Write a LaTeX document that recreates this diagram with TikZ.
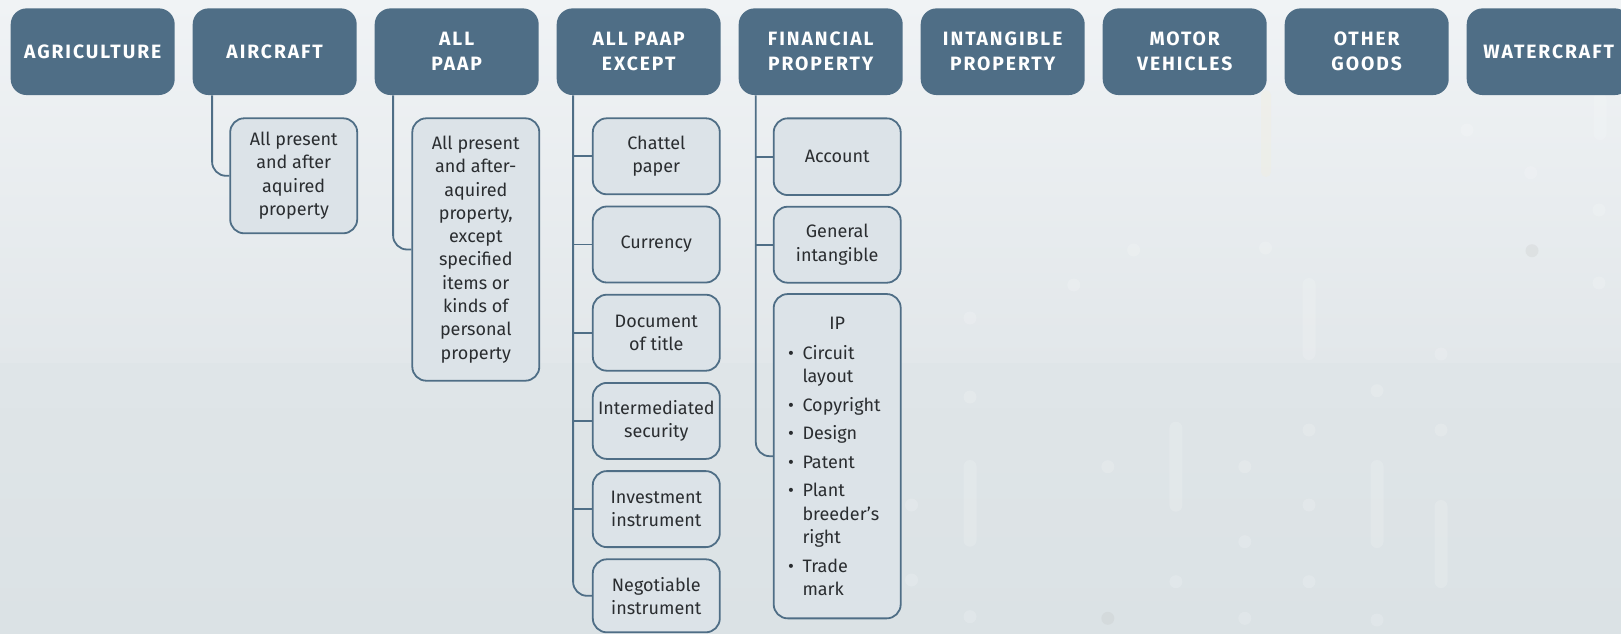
\documentclass[tikz,border=0pt]{standalone}
\usepackage{fontspec}
\setmainfont{Fira Sans}
\definecolor{slate}{HTML}{4F6E86}
\definecolor{cardfill}{HTML}{DCE3E8}
\definecolor{ink}{HTML}{2A2D30}
\definecolor{bgtop}{HTML}{F0F3F5}
\definecolor{bgmid}{HTML}{E2E7EA}
\definecolor{bglow}{HTML}{DBE2E5}
\definecolor{warm}{HTML}{F2EEDD}

\tikzset{
  header/.style={fill=slate, rounded corners=16pt, minimum width=164pt,
    minimum height=86.7pt, inner sep=0pt, text=white, align=center,
    font=\fontsize{19.3}{25}\selectfont\bfseries\addfontfeatures{LetterSpace=10}},
  card/.style={draw=slate, line width=1.8pt, fill=cardfill, rounded corners=14pt,
    minimum width=127pt, inner sep=0pt, text=ink, align=center,
    font=\fontsize{18}{23.3}\selectfont},
  listcard/.style={draw=slate, line width=1.8pt, fill=cardfill, rounded corners=14pt,
    minimum width=127pt, inner sep=0pt, text=ink,
    font=\fontsize{18}{23.3}\selectfont},
  conn/.style={draw=slate, line width=1.8pt},
  softdot/.style={fill=white, opacity=0.16},
  greydot/.style={fill=black!25, opacity=0.22},
  pill/.style={fill=white, opacity=0.15, rounded corners=6.5pt},
}

% one bullet entry of the IP list
\newcommand\ipentry[1]{\par\hangindent=14.5pt\hangafter=1\noindent
  \makebox[14.5pt][l]{\textbullet}#1}

\begin{document}
\begin{tikzpicture}[x=1pt,y=-1pt]
\useasboundingbox (0,0) rectangle (1621,633);

% background
\shade[top color=bgtop, bottom color=bgmid] (0,0) rectangle (1621,363);
\shade[top color=bgmid!60!bglow, bottom color=bglow] (0,363) rectangle (1621,633);

% faint decoration on the right
\foreach \x/\y in {1599/210,1599/283,1133.6/250,1265.5/248,1073.8/285,970/318,
    1441/354,1377/390.7,970/397,1309/430,1441/430,1107.8/466.7,1244.8/466.7,
    1309/505,1244.8/541.7,1175.9/581.7,1309/581.7,1244.8/618.3,1377/620,
    970/616.7,911.5/505,911.5/580,1467/130,1530.7/172.7}
  \fill[softdot] (\x,\y) circle (6.5);
\foreach \x/\y in {1532/250.7,1107.8/618.3}
  \fill[greydot] (\x,\y) circle (6.5);
\foreach \x/\a/\b in {1309/278/360,1175.9/421.7/511.7,970/460/546.7,
    1377/460/548,1441/500/588,1600/93/140}
  \fill[pill] (\x-6.5,\a) rectangle (\x+6.5,\b);
\fill[warm, opacity=0.35, rounded corners=5pt] (1261,90) rectangle (1271,177);

% category headers
\node[header] (hAgr) at (92.7,51.7)   {AGRICULTURE};
\node[header] (hAir) at (274.7,51.7)  {AIRCRAFT};
\node[header] (hAll) at (456.7,51.7)  {ALL\\PAAP};
\node[header] (hExc) at (638.7,51.7)  {ALL PAAP\\EXCEPT};
\node[header] (hFin) at (820.7,51.7)  {FINANCIAL\\PROPERTY};
\node[header] (hInt) at (1002.7,51.7) {INTANGIBLE\\PROPERTY};
\node[header] (hMot) at (1184.7,51.7) {MOTOR\\VEHICLES};
\node[header] (hOth) at (1366.7,51.7) {OTHER\\GOODS};
\node[header] (hWat) at (1548.7,51.7) {WATERCRAFT};

% trunk starting points under the headers
\coordinate (tAir) at ([xshift=19.6pt]hAir.south west);
\coordinate (tAll) at ([xshift=18.6pt]hAll.south west);
\coordinate (tExc) at ([xshift=16.6pt]hExc.south west);
\coordinate (tFin) at ([xshift=17.3pt]hFin.south west);

% aircraft
\node[card, minimum height=115pt] (air1) at (293.7,175.8)
  {All present\\and after\\aquired\\property};

% all PAAP
\node[card, minimum height=262.4pt] (all1) at (475.8,249.5)
  {All present\\and after-\\aquired\\property,\\except\\specified\\items or\\kinds of\\personal\\property};

% all PAAP except
\node[card, minimum height=76pt] (exc1) at (656.3,156.3) {Chattel\\paper};
\node[card, minimum height=76pt] (exc2) at (656.3,244.5) {Currency};
\node[card, minimum height=76pt] (exc3) at (656.3,332.7) {Document\\of title};
\node[card, minimum height=76pt] (exc4) at (656.3,420.9) {Intermediated\\security};
\node[card, minimum height=76pt] (exc5) at (656.3,509.1) {Investment\\instrument};
\node[card, minimum height=73pt] (exc6) at (656.3,595.8) {Negotiable\\instrument};

% financial property
\node[card, minimum height=76.7pt] (fin1) at (837.2,156.7) {Account};
\node[card, minimum height=76pt] (fin2) at (837.2,244.7) {General\\intangible};
\node[listcard, minimum height=324.3pt] (ip) at (837.2,456.2) {%
  \begin{minipage}{98.4pt}
    \setlength\parskip{5.3pt}\raggedright
    {\centering IP\par}\vspace{1.4pt}
    \ipentry{Circuit\newline layout}
    \ipentry{Copyright}
    \ipentry{Design}
    \ipentry{Patent}
    \ipentry{Plant\newline breeder’s\newline right}
    \ipentry{Trade\newline mark}
  \end{minipage}};

% connectors
\draw[conn, rounded corners=14pt] (tAir) |- (air1.west);
\draw[conn, rounded corners=14pt] (tAll) |- (all1.west);
\draw[conn, rounded corners=14pt] (tExc) |- (exc6.west);
\foreach \n in {exc1,exc2,exc3,exc4,exc5}
  \draw[conn] (\n.west) -- (\n.west -| tExc);
\draw[conn, rounded corners=14pt] (tFin) |- (ip.west);
\foreach \n in {fin1,fin2}
  \draw[conn] (\n.west) -- (\n.west -| tFin);
\end{tikzpicture}
\end{document}
